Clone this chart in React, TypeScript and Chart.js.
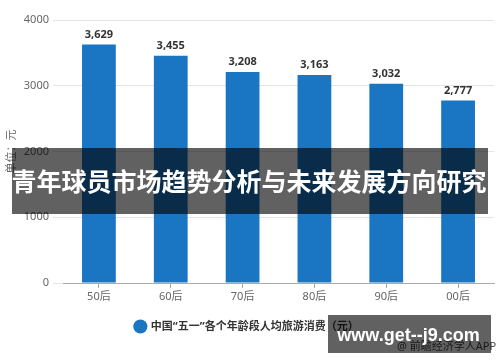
import React, { useEffect, useRef } from "react";
import { Chart, registerables } from "chart.js";

Chart.register(...registerables);

const categories = ["50后", "60后", "70后", "80后", "90后", "00后"];
const spending = [3629, 3455, 3208, 3163, 3032, 2777];
const seriesName = "中国“五一”各个年龄段人均旅游消费（元）";
const yTicks = [0, 1000, 2000, 3000, 4000];
const yTitle = "单位：元";
const bannerText = "青年球员市场趋势分析与未来发展方向研究";
const watermarkText = "www.get--j9.com";
const sourceText = "@ 前瞻经济学人APP";

const FONT = '"Noto Sans", "Noto Sans CJK SC", sans-serif';
const CJK = '"Noto Sans CJK SC", sans-serif';
const BAR = "#1a75c3";

const overlayPlugin = {
  id: "overlay",
  afterDatasetsDraw(chart: any) {
    const ctx = chart.ctx;
    const meta = chart.getDatasetMeta(0);
    ctx.save();
    ctx.font = `bold 11px ${FONT}`;
    ctx.fillStyle = "#333";
    ctx.textAlign = "center";
    ctx.textBaseline = "middle";
    meta.data.forEach((el: any, i: number) => {
      ctx.fillText(spending[i].toLocaleString("en-US"), el.x, el.y - 10);
    });
    ctx.restore();
  },
  afterDraw(chart: any) {
    const ctx = chart.ctx;
    ctx.save();
    // source
    ctx.font = `11px ${FONT}`;
    ctx.fillStyle = "#444";
    ctx.textAlign = "left";
    ctx.textBaseline = "middle";
    ctx.fillText(sourceText, 397, 347);
    // banner
    ctx.fillStyle = "rgba(0,0,0,0.62)";
    ctx.fillRect(12, 148, 476, 66);
    ctx.font = `bold 25px ${CJK}`;
    ctx.fillStyle = "#fff";
    ctx.textAlign = "center";
    ctx.fillText(bannerText, 249, 181);
    // watermark
    ctx.fillStyle = "rgba(0,0,0,0.62)";
    ctx.fillRect(328, 315, 163, 38);
    ctx.font = `bold 18px "Liberation Sans", sans-serif`;
    ctx.fillStyle = "#fff";
    ctx.fillText(watermarkText, 408.5, 336);
    ctx.restore();
  },
};

export default function App() {
  const ref = useRef<HTMLCanvasElement | null>(null);
  useEffect(() => {
    document.body.style.margin = "0";
    const chart = new Chart(ref.current as HTMLCanvasElement, {
      type: "bar",
      data: {
        labels: categories,
        datasets: [
          {
            label: seriesName,
            data: spending,
            backgroundColor: BAR,
            borderWidth: 0,
            barPercentage: 0.47,
            categoryPercentage: 1,
          },
        ],
      },
      options: {
        responsive: false,
        animation: false,
        layout: { padding: { left: 0, right: 6, top: 20, bottom: 20 } },
        plugins: {
          tooltip: { enabled: false },
          legend: {
            position: "bottom",
            labels: {
              usePointStyle: true,
              pointStyle: "circle",
              boxWidth: 10,
              boxHeight: 10,
              color: "#333",
              font: { family: FONT, size: 11, weight: "bold" },
            },
          },
        },
        scales: {
          x: {
            grid: {
              display: true,
              offset: false,
              drawOnChartArea: false,
              drawTicks: true,
              tickLength: 5,
              color: "#aaa",
            },
            border: { display: true, color: "#aaa" },
            ticks: { color: "#666", padding: 2, font: { family: FONT, size: 11 } },
            afterFit(s: any) {
              s.height = 28;
            },
          },
          y: {
            min: 0,
            max: 4000,
            afterBuildTicks(s: any) {
              s.ticks = yTicks.map((v) => ({ value: v }));
            },
            grid: { color: "#e4e4e4", tickLength: 10, drawTicks: true },
            border: { display: false },
            ticks: {
              color: "#666",
              padding: 4,
              font: { family: FONT, size: 11 },
              callback: (v: any) => String(v),
            },
            title: {
              display: true,
              text: yTitle,
              color: "#666",
              font: { family: CJK, size: 11 },
            },
            afterFit(s: any) {
              s.width = 63;
            },
          },
        },
      },
      plugins: [overlayPlugin],
    } as any);
    return () => chart.destroy();
  }, []);
  return (
    <div style={{ width: 500, height: 362 }}>
      <canvas ref={ref} width={500} height={362} />
    </div>
  );
}
